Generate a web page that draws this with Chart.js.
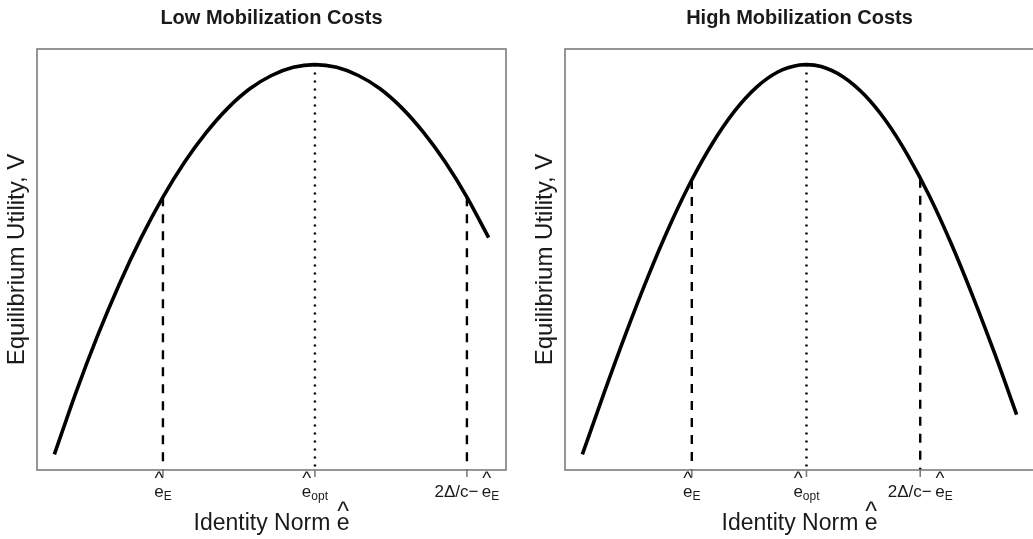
<!DOCTYPE html>
<html><head><meta charset="utf-8">
<script src="https://cdn.jsdelivr.net/npm/chart.js@4"></script>
<style>
html,body{margin:0;padding:0;background:#fff;overflow:hidden;width:1033px;height:539px;}
.panel{position:absolute;top:0;height:539px;}
</style></head><body>
<div class="panel" style="left:0;width:520px"><canvas id="c1" width="520" height="539"></canvas></div>
<div class="panel" style="left:520px;width:514px"><canvas id="c2" width="514" height="539"></canvas></div>
<script>
// ---- data ----
const panelTitles = ["Low Mobilization Costs", "High Mobilization Costs"];
const xAxisLabel = "Identity Norm ";
const yAxisLabel = "Equilibrium Utility, V";

const lowX = [0,0.5,1,1.5,2,2.5,3,3.5,4,4.5,5,5.5,6,6.5,7,7.5,8,8.5,9,9.5,10];
const lowV = [0,1.6,3.06,4.38,5.56,6.6,7.5,8.26,8.89,9.38,9.72,9.93,10,9.93,9.72,9.38,8.89,8.26,7.5,6.6,5.56];

const highX = [0,0.5,1,1.5,2,2.5,3,3.5,4,4.5,5,5.16,5.5,6,6.5,7,7.5,8,8.5,9,9.5,10];
const highV = [0,1.58,3.1,4.53,5.84,7.0,7.99,8.8,9.41,9.81,9.99,10,9.95,9.69,9.22,8.54,7.66,6.61,5.39,4.03,2.57,1.02];

// marker positions: e_E, e_opt, 2Δ/c − e_E
const lowMarkX = [2.5, 6, 9.5];
const lowMarkV = [6.6, 10, 6.6];
const highMarkX = [2.52, 5.16, 7.78];
const highMarkV = [7.04, 10, 7.07];
const markDash = [[9,8],[2,6],[9,8]];
const tickLabels = [
  [{type:'hat'}, {type:'sub', t:'E'}],
  [{type:'hat'}, {type:'sub', t:'opt'}],
  [{type:'txt', t:'2\u0394/c\u2212\u2009'}, {type:'hat'}, {type:'sub', t:'E'}]
];
const axisMin = -0.4, axisMax = 10.4;

const FONT = '"Liberation Sans", Arial, Helvetica, sans-serif';

function partWidth(ctx, p, size){
  if (p.type === 'txt'){ ctx.font = size+'px '+FONT; return ctx.measureText(p.t).width; }
  if (p.type === 'hat'){ ctx.font = size+'px '+FONT; return ctx.measureText('e').width; }
  ctx.font = Math.round(size*0.72)+'px '+FONT; return ctx.measureText(p.t).width;
}
function drawParts(ctx, parts, cx, base, size, hatDy){
  let total = 0;
  parts.forEach(p => total += partWidth(ctx, p, size));
  let x = cx - total/2;
  ctx.textAlign = 'left';
  ctx.textBaseline = 'alphabetic';
  parts.forEach(p => {
    const w = partWidth(ctx, p, size);
    if (p.type === 'txt'){ ctx.font = size+'px '+FONT; ctx.fillText(p.t, x, base); }
    else if (p.type === 'hat'){
      ctx.font = size+'px '+FONT; ctx.fillText('e', x, base);
      const hs = Math.round(size*1.1);
      ctx.font = hs+'px '+FONT;
      const hw = ctx.measureText('^').width;
      ctx.fillText('^', x + w/2 - hw/2, base - hatDy);
    } else {
      ctx.font = Math.round(size*0.72)+'px '+FONT; ctx.fillText(p.t, x, base + size*0.2);
    }
    x += w;
  });
}

const decor = {
  id: 'decor',
  afterDraw(chart, args, opts){
    const ctx = chart.ctx, a = chart.chartArea, xs = chart.scales.x;
    const cx = (a.left + a.right)/2, cy = (a.top + a.bottom)/2;
    ctx.save();
    // box
    ctx.strokeStyle = '#7c7c7c'; ctx.lineWidth = 1.6;
    ctx.strokeRect(a.left, a.top, a.right - a.left, a.bottom - a.top);
    // tick marks + labels
    ctx.fillStyle = '#1a1a1a';
    opts.marks.forEach((m, i) => {
      const px = xs.getPixelForValue(m);
      ctx.beginPath(); ctx.moveTo(px, a.bottom); ctx.lineTo(px, a.bottom + 7); ctx.stroke();
      drawParts(ctx, tickLabels[i], px, 497, 17, 13);
    });
    // title
    ctx.font = 'bold 20px '+FONT; ctx.textAlign = 'center'; ctx.textBaseline = 'alphabetic';
    ctx.fillText(opts.title, cx, 24);
    // x axis title
    drawParts(ctx, [{type:'txt', t:xAxisLabel}, {type:'hat'}], cx, 530, 23, 10);
    // y axis title
    ctx.save();
    ctx.translate(a.left - 20, cy);
    ctx.rotate(-Math.PI/2);
    ctx.font = '24px '+FONT; ctx.textAlign = 'center'; ctx.textBaseline = 'middle';
    ctx.fillText(yAxisLabel, 0, 0);
    ctx.restore();
    ctx.restore();
  }
};

function makeChart(id, title, xsArr, vsArr, markX, markV, pad){
  const curve = xsArr.map((x, i) => ({x: x, y: vsArr[i]}));
  const datasets = [{
    data: curve, borderColor: '#000', borderWidth: 3.6, pointRadius: 0,
    cubicInterpolationMode: 'monotone', fill: false
  }];
  markX.forEach((m, i) => {
    datasets.push({
      data: [{x: m, y: markV[i]}, {x: m, y: axisMin}],
      borderColor: '#000', borderWidth: 2.4, borderDash: markDash[i],
      pointRadius: 0, tension: 0, fill: false
    });
  });
  return new Chart(document.getElementById(id), {
    type: 'line',
    data: { datasets },
    options: {
      responsive: false, animation: false, devicePixelRatio: 1,
      layout: { padding: pad },
      plugins: { legend: {display: false}, tooltip: {enabled: false}, title: {display: false},
                 decor: { title: title, marks: markX } },
      scales: {
        x: { type: 'linear', min: axisMin, max: axisMax, display: false },
        y: { type: 'linear', min: axisMin, max: axisMax, display: false }
      }
    },
    plugins: [decor]
  });
}

makeChart('c1', panelTitles[0], lowX, lowV, lowMarkX, lowMarkV, {left: 37, right: 14, top: 49, bottom: 69});
makeChart('c2', panelTitles[1], highX, highV, highMarkX, highMarkV, {left: 45, right: 0, top: 49, bottom: 69});
</script>
</body></html>
